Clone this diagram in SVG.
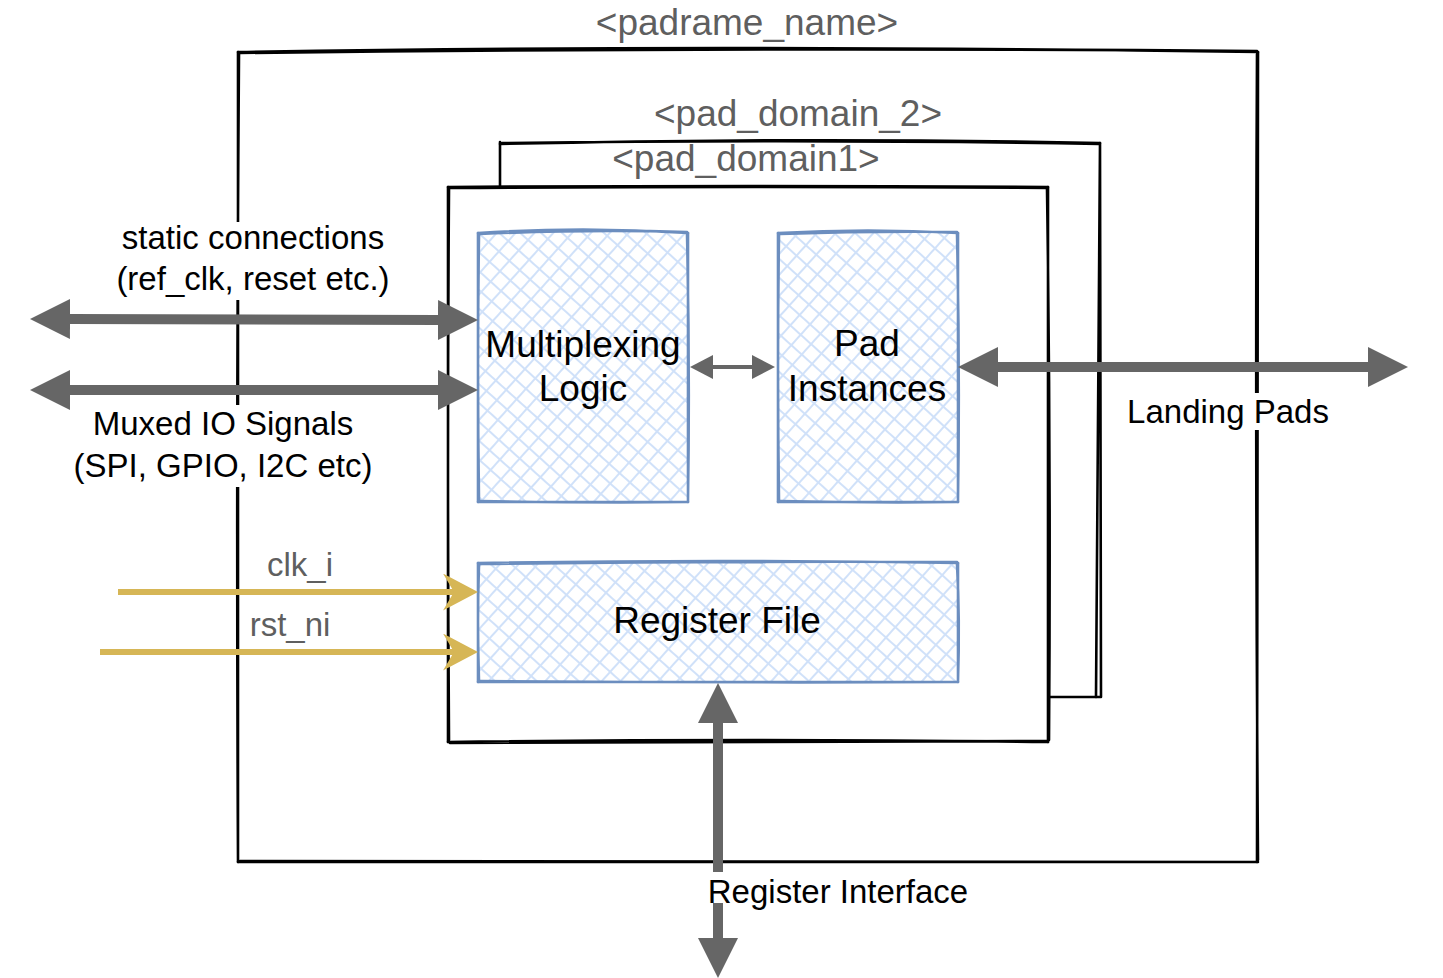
<svg xmlns="http://www.w3.org/2000/svg" width="1443" height="978" viewBox="0 0 1443 978">
<defs>
<pattern id="hatch" width="14" height="14" patternUnits="userSpaceOnUse" patternTransform="rotate(42)">
<rect width="14" height="14" fill="#ffffff"/>
<path d="M0,7 H14 M7,0 V14" stroke="#d0e1f9" stroke-width="2"/>
</pattern>
<marker id="big" viewBox="0 0 40 40" refX="0" refY="20" markerWidth="40" markerHeight="40" markerUnits="userSpaceOnUse" orient="auto-start-reverse">
<path d="M0,0 L40,20 L0,40 Z" fill="#666666"/>
</marker>
<marker id="small" viewBox="0 0 23 24" refX="0" refY="12" markerWidth="23" markerHeight="24" markerUnits="userSpaceOnUse" orient="auto-start-reverse">
<path d="M0,0 L23,12 L0,24 Z" fill="#666666"/>
</marker>
<marker id="cls" viewBox="0 0 35 37" refX="12" refY="18.5" markerWidth="35" markerHeight="37" markerUnits="userSpaceOnUse" orient="auto">
<path d="M0,0 L35,18.5 L0,37 L11,18.5 Z" fill="#d6b656"/>
</marker>
</defs>
<style>
.frame{fill:none;stroke:#000000;stroke-width:2.6;stroke-linecap:round;stroke-linejoin:round}
.bg{fill:#ffffff;stroke:none}
.box{fill:none;stroke:#6c8ebf;stroke-width:2.6;stroke-linecap:round}
.hfill{fill:url(#hatch);stroke:none}
.gbig{fill:none;stroke:#666666;stroke-width:10}
.gsmall{fill:none;stroke:#666666;stroke-width:4}
.yel{fill:none;stroke:#d6b656;stroke-width:6}
.t{font-family:"Liberation Sans",Arial,sans-serif;text-anchor:middle}
.lbl{font-size:33px;fill:#000000}
.big{font-size:37px;fill:#000000}
.gray{fill:#5f5f5f}
</style>

<g id="padframe">
<rect class="bg" x="238" y="52" width="1020" height="810"/>
<path class="frame" d="M238,52 Q700,44 1258,52 M240,53 Q760,47 1257,51"/>
<path class="frame" d="M1258,52 L1257,862 M1257,54 Q1255,450 1258,860"/>
<path class="frame" d="M238,862 L1258,862 M240,861 Q750,863 1257,862"/>
<path class="frame" d="M238,52 L238,862 M239,54 Q236,450 238,860"/>
<text class="t big gray" x="747" y="35">&lt;padrame_name&gt;</text>
</g>

<g id="pad_domain_2">
<rect class="bg" x="500" y="142" width="600" height="555"/>
<path class="frame" d="M500,144 Q800,137 1100,143 M502,143 Q820,139 1099,144"/>
<path class="frame" d="M1100,143 L1096,697 M1100,143 L1101,697"/>
<path class="frame" d="M500,697 L1100,697"/>
<path class="frame" d="M500,142 L500,697"/>
<text class="t big gray" x="798" y="126">&lt;pad_domain_2&gt;</text>
</g>

<g id="pad_domain1">
<rect class="bg" x="448" y="187" width="600" height="555"/>
<path class="frame" d="M448,187 Q750,185 1048,187 M450,188 Q760,186 1047,188"/>
<path class="frame" d="M1048,187 L1048,742 M1047,189 Q1051,460 1049,740"/>
<path class="frame" d="M448,742 Q760,738 1048,742 M450,743 Q700,741 1047,741"/>
<path class="frame" d="M448,187 L448,742 M449,189 Q447,460 449,740"/>
<text class="t big gray" x="746" y="171">&lt;pad_domain1&gt;</text>
</g>

<g id="mux">
<rect class="hfill" x="478" y="232" width="210" height="270"/>
<path class="box" d="M478,233 Q583,226 688,233 M480,234 Q590,229 687,232"/>
<path class="box" d="M688,233 L688,502 M687,234 Q690,370 688,500"/>
<path class="box" d="M478,502 L688,502 M480,501 Q590,503 687,502"/>
<path class="box" d="M478,233 L478,502 M479,235 Q477,370 479,500"/>
<text class="t big" x="583" y="357">Multiplexing</text>
<text class="t big" x="583" y="401">Logic</text>
</g>

<g id="pad_instances">
<rect class="hfill" x="778" y="232" width="180" height="270"/>
<path class="box" d="M778,233 Q868,228 958,233 M780,234 Q870,231 957,232"/>
<path class="box" d="M958,233 L958,502 M957,234 Q960,370 958,500"/>
<path class="box" d="M778,502 L958,502 M780,501 Q870,503 957,502"/>
<path class="box" d="M778,233 L778,502 M779,235 Q777,370 779,500"/>
<text class="t big" x="867" y="356">Pad</text>
<text class="t big" x="867" y="401">Instances</text>
</g>

<g id="register_file">
<rect class="hfill" x="478" y="562" width="480" height="120"/>
<path class="box" d="M478,563 Q718,559 958,563 M480,564 Q720,561 957,562"/>
<path class="box" d="M958,563 L958,682 M957,564 Q960,620 958,681"/>
<path class="box" d="M478,682 L958,682 M480,681 Q720,683 957,682"/>
<path class="box" d="M478,563 L478,682 M479,565 Q477,620 479,681"/>
<text class="t big" x="717" y="633">Register File</text>
</g>

<g id="connectors">
<path class="gbig" d="M70,319 L438,320" marker-start="url(#big)" marker-end="url(#big)"/>
<path class="gbig" d="M70,390 L438,390" marker-start="url(#big)" marker-end="url(#big)"/>
<path class="gsmall" d="M713,367 L752,367" marker-start="url(#small)" marker-end="url(#small)"/>
<path class="gbig" d="M998,367 L1368,367" marker-start="url(#big)" marker-end="url(#big)"/>
<path class="gbig" d="M718,723 L718,938" marker-start="url(#big)" marker-end="url(#big)"/>
<path class="yel" d="M118,592 L455,592" marker-end="url(#cls)"/>
<path class="yel" d="M100,652 L455,652" marker-end="url(#cls)"/>
</g>

<g id="label_static">
<rect class="bg" x="112" y="222" width="282" height="78"/>
<text class="t lbl" x="253" y="249">static connections</text>
<text class="t lbl" x="253" y="290">(ref_clk, reset etc.)</text>
</g>
<g id="label_muxed">
<rect class="bg" x="70" y="405" width="306" height="82"/>
<text class="t lbl" x="223" y="435">Muxed IO Signals</text>
<text class="t lbl" x="223" y="477">(SPI, GPIO, I2C etc)</text>
</g>
<g id="label_landing">
<rect class="bg" x="1126" y="393" width="206" height="37"/>
<text class="t lbl" x="1228" y="423">Landing Pads</text>
</g>
<g id="label_regif">
<rect class="bg" x="704" y="872" width="268" height="31"/>
<text class="t lbl" x="838" y="903">Register Interface</text>
</g>
<g id="label_clk">
<text class="t lbl gray" x="300" y="576">clk_i</text>
</g>
<g id="label_rst">
<text class="t lbl gray" x="290" y="636">rst_ni</text>
</g>
</svg>
